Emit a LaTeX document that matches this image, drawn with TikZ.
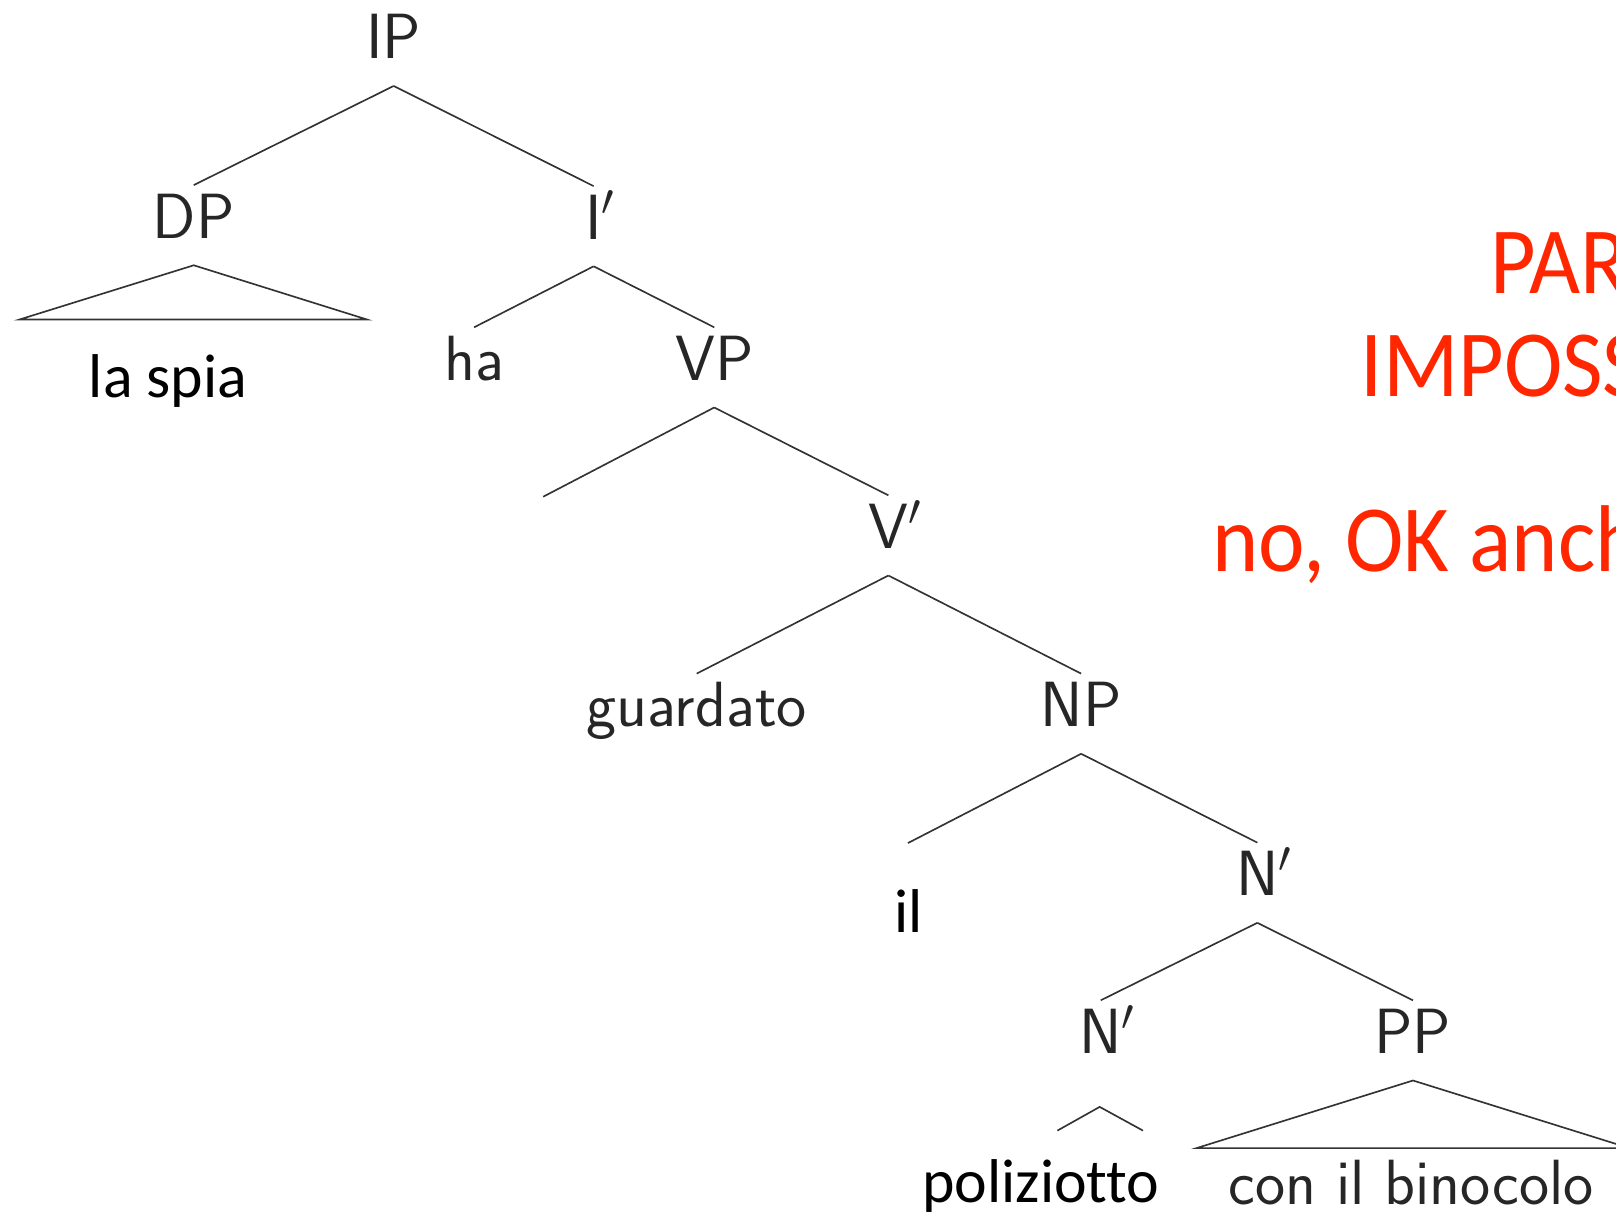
\documentclass[tikz,border=0pt]{standalone}
\usepackage{fix-cm}
\usepackage{fontspec}
\newfontfamily\gillfont[Ligatures={NoCommon}]{Carlito}
\definecolor{keyred}{RGB}{255,38,0}

\begin{document}
\begin{tikzpicture}[x=.5pt,y=-.5pt]
      \useasboundingbox (0,0) rectangle (1568,1182);

      \begin{scope}[every node/.style={anchor=base, inner sep=0pt, text height=25.5pt, text depth=13pt, text=black!85, font=\fontsize{31}{36}\selectfont\sffamily}]
        \node (IP)  at (382,57)   {IP};
        \node (DP)  at (188,231)  {DP};
        \node (Ib)  at (576,232)  {I\rlap{$'$}};
        \node (ha)  at (460,369)  {ha};
        \node (VP)  at (693,369)  {VP};
        \node (Vb)  at (862,532)  {V\rlap{$'$}};
        \node (gu)  at (676,705)  {guardato};
        \node (NP)  at (1049,705) {NP};
        \node (Nb)  at (1220,869) {N\rlap{$'$}};
        \node (Nc)  at (1068,1022) {N\rlap{$'$}};
        \node (PP)  at (1371,1022) {PP};
        \node (bin) at (1369,1169) {con il binocolo};
      \end{scope}

      \begin{scope}[every node/.style={anchor=base, inner sep=0pt, text=black, font=\fontsize{30}{36}\selectfont\gillfont}]
        \node (spia) at (163,386)  {la spia};
        \node (il)   at (882,905)  {il};
        \node (pol)  at (1010,1167) {poliziotto};
      \end{scope}

      \coordinate (vt)  at (527,482);
      \coordinate (ilt) at (881,818);
      \coordinate (dpl) at (19,310);
      \coordinate (dpr) at (356,310);
      \coordinate (ppl) at (1161,1114);
      \coordinate (ppr) at (1581,1114);
      \coordinate (nca) at (1067,1074);
      \coordinate (ncl) at (1026,1097);
      \coordinate (ncr) at (1109,1097);

      \begin{scope}[every edge/.style={draw, black!80, line width=.8pt}]
        \path (IP.south) edge (DP.north);
        \path (IP.south) edge (Ib.north);
        \path (Ib.south) edge (ha.north);
        \path (Ib.south) edge (VP.north);
        \path (VP.south) edge (vt);
        \path (VP.south) edge (Vb.north);
        \path (Vb.south) edge (gu.north);
        \path (Vb.south) edge (NP.north);
        \path (NP.south) edge (ilt);
        \path (NP.south) edge (Nb.north);
        \path (Nb.south) edge (Nc.north);
        \path (Nb.south) edge (PP.north);
      \end{scope}

      % roofs
      \draw[black!80, line width=.8pt] (dpl) -- (DP.south) -- (dpr) -- cycle;
      \draw[black!80, line width=.8pt] (ppl) -- (PP.south) -- (ppr) -- cycle;
      \draw[black!80, line width=.8pt] (ncl) -- (nca) -- (ncr);

      \begin{scope}[every node/.style={anchor=base west, inner sep=0pt, text=keyred, font=\fontsize{46}{54}\selectfont\gillfont}]
        \node (par) at (1446,285) {\scalebox{.93}[1]{PAR}};
        \node (imp) at (1320,385) {\scalebox{.93}[1]{IMPOSS}};
        \node (ok)  at (1176,555) {\scalebox{.93}[1]{no, OK anch}};
      \end{scope}

    \end{tikzpicture}
\end{document}
